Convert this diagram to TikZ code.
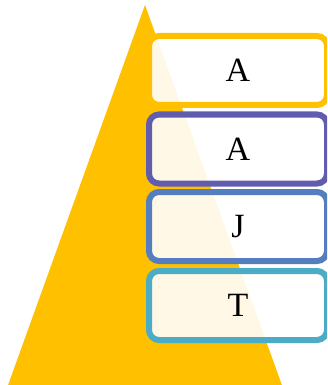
\documentclass[tikz,border=0pt]{standalone}
\usepackage{fontspec}
\setmainfont{Liberation Serif}
\definecolor{gold}{RGB}{255,192,0}
\definecolor{levpurple}{RGB}{96,92,174}
\definecolor{levblue}{RGB}{84,126,192}
\definecolor{levcyan}{RGB}{76,172,198}
\begin{document}
\begin{tikzpicture}[x=1pt,y=-1pt,
  level/.style={draw=#1, line width=6pt, rounded corners=10pt,
    fill=white, fill opacity=0.9, text opacity=1,
    minimum width=178pt, minimum height=69pt, inner sep=0pt,
    font=\fontsize{34}{38}\selectfont}]
  \useasboundingbox (0,0) rectangle (327,385);
  \clip (0,0) rectangle (327,385);
  % pyramid
  \fill[gold] (145,5) -- (283,388) -- (7,388) -- cycle;
  % stacked levels
  \node[level=gold]       (l1) at (238,70.5)  {A};
  \node[level=levpurple]  (l2) at (238,149)   {A};
  \node[level=levblue]    (l3) at (238,226.5) {J};
  \node[level=levcyan]    (l4) at (238,305.5) {T};
\end{tikzpicture}
\end{document}
